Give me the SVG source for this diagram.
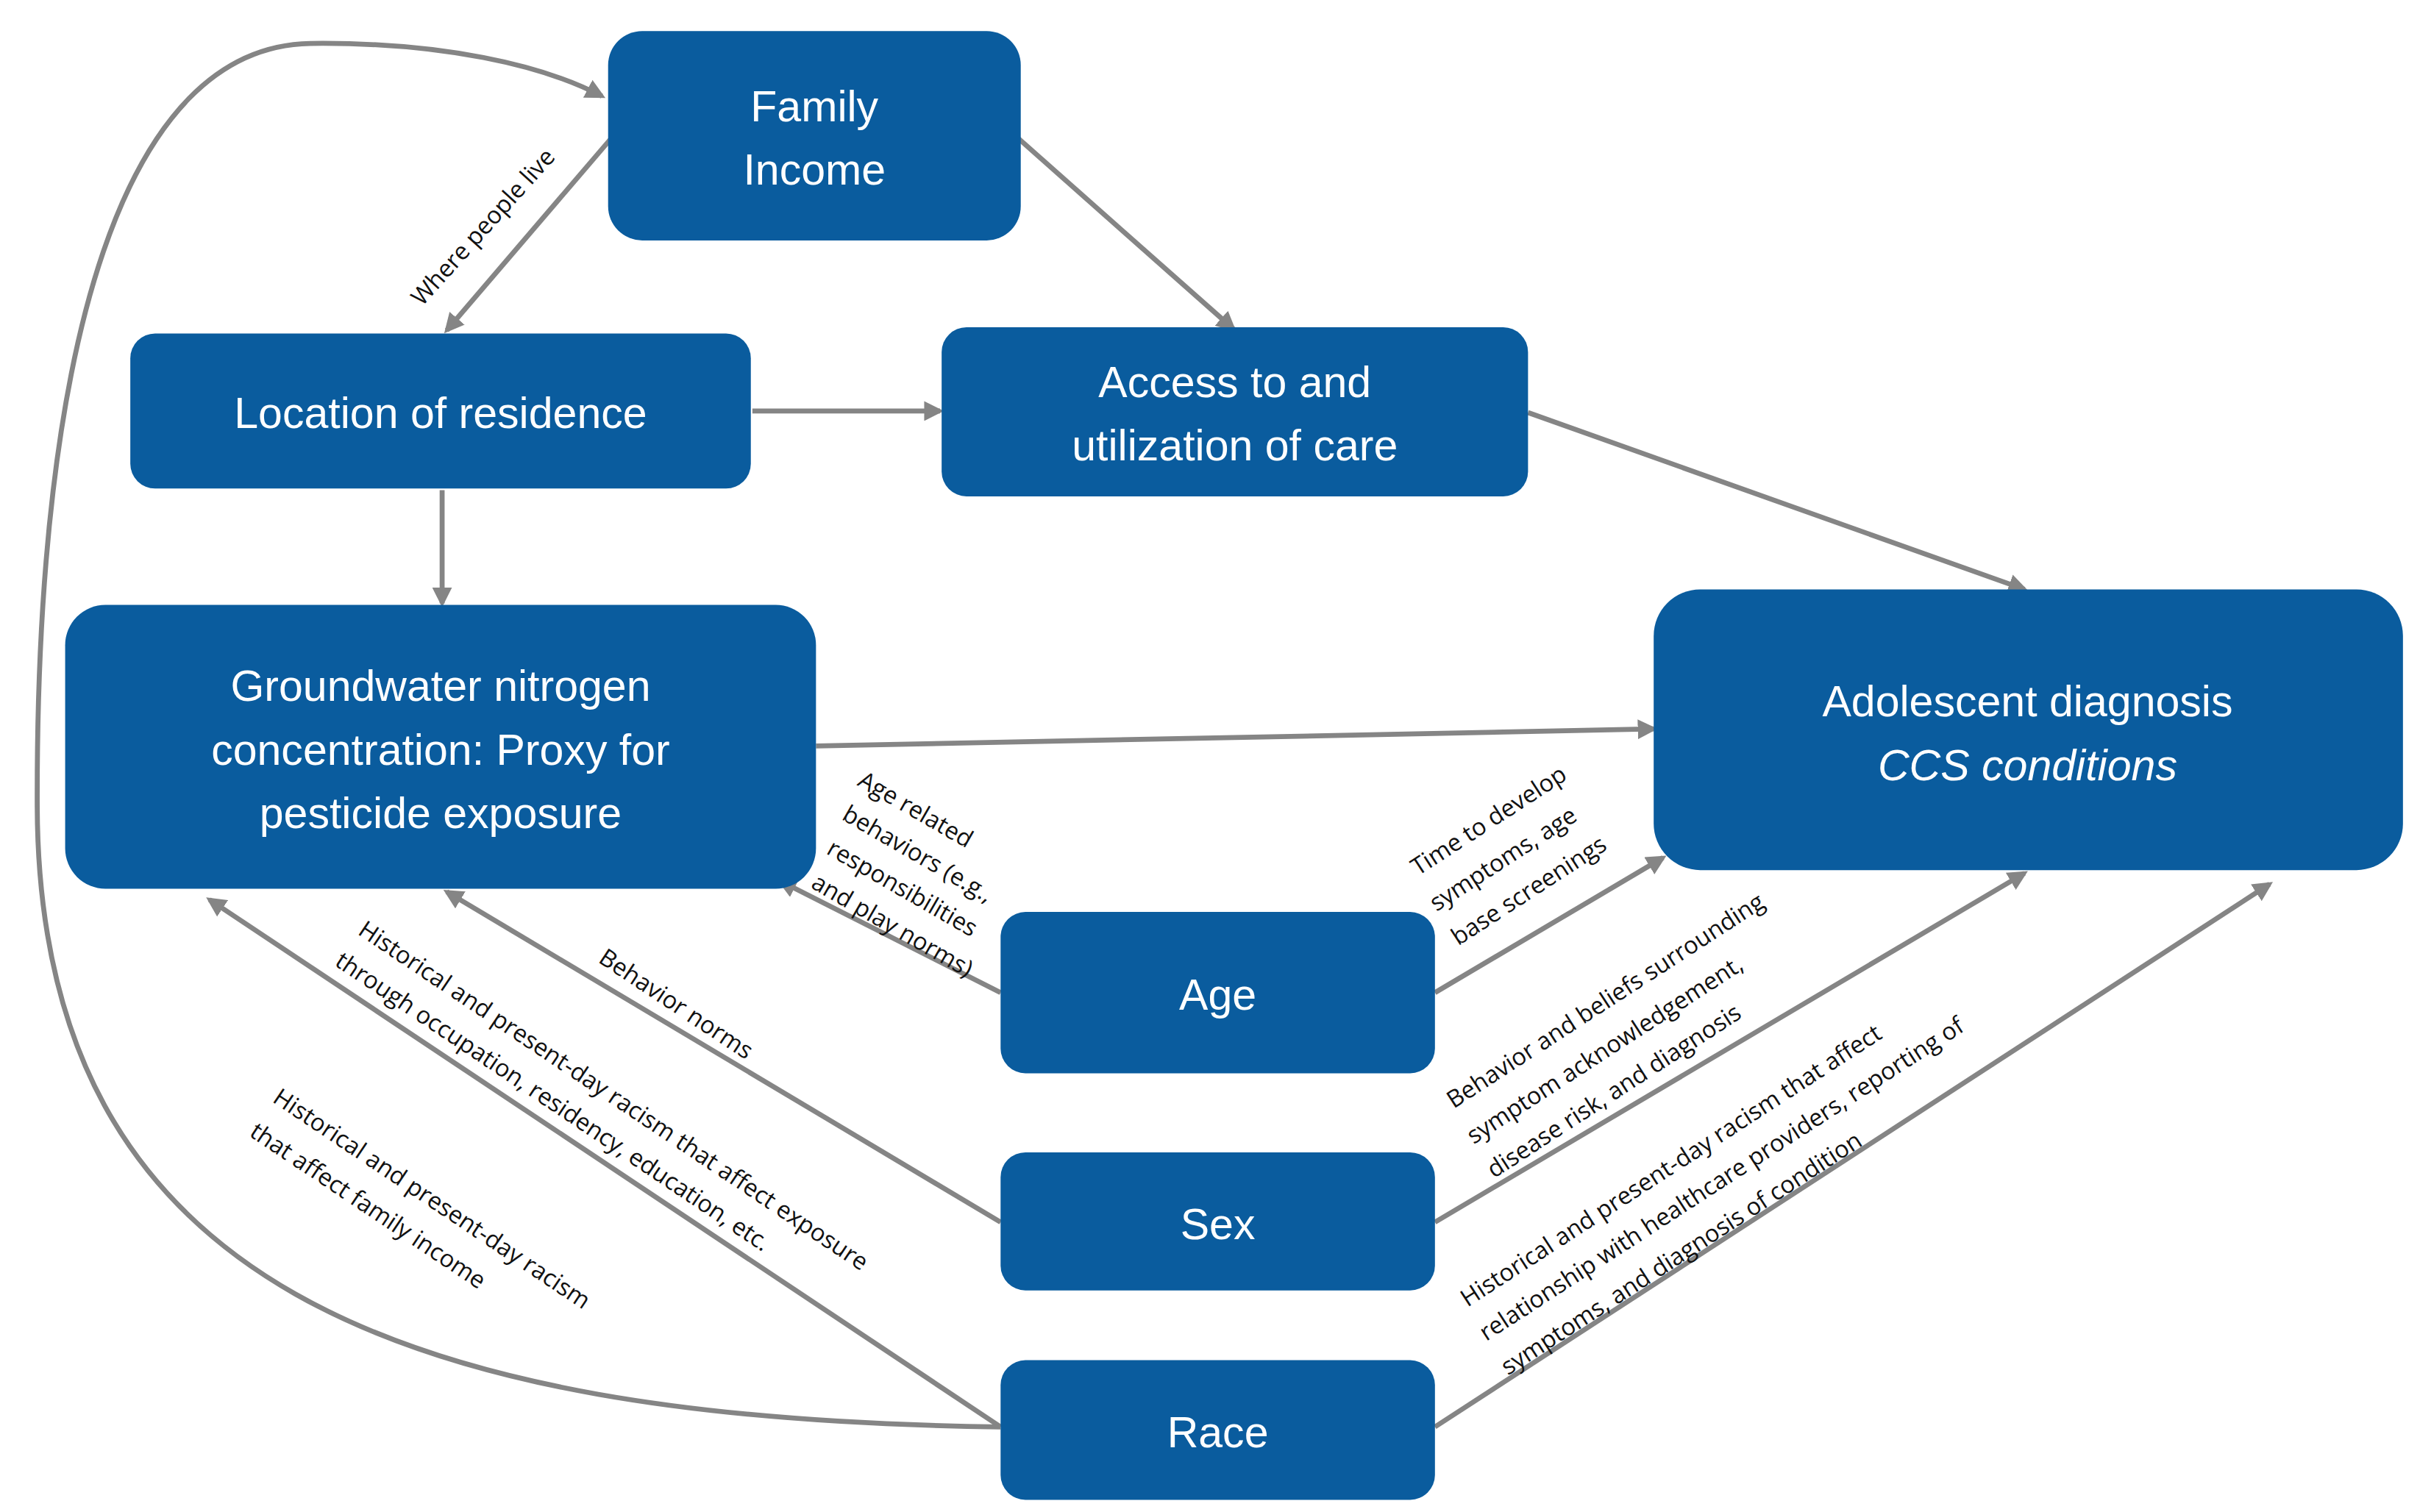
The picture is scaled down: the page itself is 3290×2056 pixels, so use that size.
<svg xmlns="http://www.w3.org/2000/svg" width="3290" height="2056" viewBox="0 0 3290 2056">
<style>
.n{fill:#0a5c9e}
.t{fill:#fff;font-family:"Liberation Sans",Arial,sans-serif;font-size:28px;text-anchor:middle}
.c{fill:none;stroke:#858585;stroke-width:3.2}
.l{fill:#111;font-family:"Open Sans","Liberation Sans",sans-serif;font-size:15.5px}
</style>
<defs><marker id="a" viewBox="0 0 10 10" refX="8" refY="5" markerWidth="4" markerHeight="4" orient="auto" markerUnits="strokeWidth"><path d="M0,0L10,5L0,10z" fill="#858585"/></marker></defs>
<rect width="3290" height="2056" fill="#fff"/>
<g transform="scale(2.109)">
<g id="connectors">
<path class="c" marker-end="url(#a)" d="M395,88L288,213"/>
<path class="c" marker-end="url(#a)" d="M655,88L795,212"/>
<path class="c" marker-end="url(#a)" d="M485,265L606,265"/>
<path class="c" marker-end="url(#a)" d="M285,316L285,389"/>
<path class="c" marker-end="url(#a)" d="M985,266L1305,380"/>
<path class="c" marker-end="url(#a)" d="M526,481L1066,470"/>
<path class="c" marker-end="url(#a)" d="M645,640L503,568"/>
<path class="c" marker-end="url(#a)" d="M925,640L1072,553"/>
<path class="c" marker-end="url(#a)" d="M645,788L288,575"/>
<path class="c" marker-end="url(#a)" d="M925,788L1305,563"/>
<path class="c" marker-end="url(#a)" d="M645,920L135,580"/>
<path class="c" marker-end="url(#a)" d="M925,920L1463,570"/>
<path class="c" marker-end="url(#a)" d="M645,920C260,915 25,830 24,520C23,220 80,30 200,28C285,27 350,42 388,62"/>
<text class="l" transform="translate(272,198) rotate(-48)">Where people live</text>
<text class="l" transform="translate(552,506) rotate(30)">Age related</text>
<text class="l" transform="translate(542,528) rotate(30)">behaviors (e.g.,</text>
<text class="l" transform="translate(532,550) rotate(30)">responsibilities</text>
<text class="l" transform="translate(522,572) rotate(30)">and play norms)</text>
<text class="l" transform="translate(914,565) rotate(-33)">Time to develop</text>
<text class="l" transform="translate(926,588) rotate(-33)">symptoms, age</text>
<text class="l" transform="translate(940,610) rotate(-33)">base screenings</text>
<text class="l" transform="translate(385,620) rotate(33.5)">Behavior norms</text>
<text class="l" transform="translate(230,602) rotate(33.8)">Historical and present-day racism that affect exposure</text>
<text class="l" transform="translate(215,622) rotate(33.8)">through  occupation, residency, education, etc.</text>
<text class="l" transform="translate(175,710) rotate(33.8)">Historical and present-day racism</text>
<text class="l" transform="translate(160,732) rotate(33.8)">that affect family income</text>
<text class="l" transform="translate(937,715) rotate(-33)">Behavior and beliefs surrounding</text>
<text class="l" transform="translate(950,738) rotate(-33)">symptom acknowledgement,</text>
<text class="l" transform="translate(963,760) rotate(-33)">disease risk, and diagnosis</text>
<text class="l" transform="translate(946,843) rotate(-33)">Historical and present-day racism that affect</text>
<text class="l" transform="translate(958,865) rotate(-33)">relationship with healthcare providers, reporting of</text>
<text class="l" transform="translate(972,887) rotate(-33)">symptoms, and diagnosis of condition</text>
</g>
<g id="family"><rect class="n" x="392" y="20" width="266" height="135" rx="22"/><text class="t" x="525" y="78">Family</text><text class="t" x="525" y="119">Income</text></g>
<g id="location"><rect class="n" x="84" y="215" width="400" height="100" rx="16"/><text class="t" x="284" y="276">Location  of residence</text></g>
<g id="access"><rect class="n" x="607" y="211" width="378" height="109" rx="16"/><text class="t" x="796" y="256">Access to and</text><text class="t" x="796" y="297">utilization  of care</text></g>
<g id="groundwater"><rect class="n" x="42" y="390" width="484" height="183" rx="26"/><text class="t" x="284" y="452">Groundwater  nitrogen</text><text class="t" x="284" y="493">concentration:  Proxy for</text><text class="t" x="284" y="534">pesticide  exposure</text></g>
<g id="adolescent"><rect class="n" x="1066" y="380" width="483" height="181" rx="30"/><text class="t" x="1307" y="462">Adolescent  diagnosis</text><text class="t" x="1307" y="503" font-style="italic">CCS conditions</text></g>
<g id="age"><rect class="n" x="645" y="588" width="280" height="104" rx="16"/><text class="t" x="785" y="651">Age</text></g>
<g id="sex"><rect class="n" x="645" y="743" width="280" height="89" rx="16"/><text class="t" x="785" y="799">Sex</text></g>
<g id="race"><rect class="n" x="645" y="877" width="280" height="90" rx="16"/><text class="t" x="785" y="933">Race</text></g>
</g>
</svg>
